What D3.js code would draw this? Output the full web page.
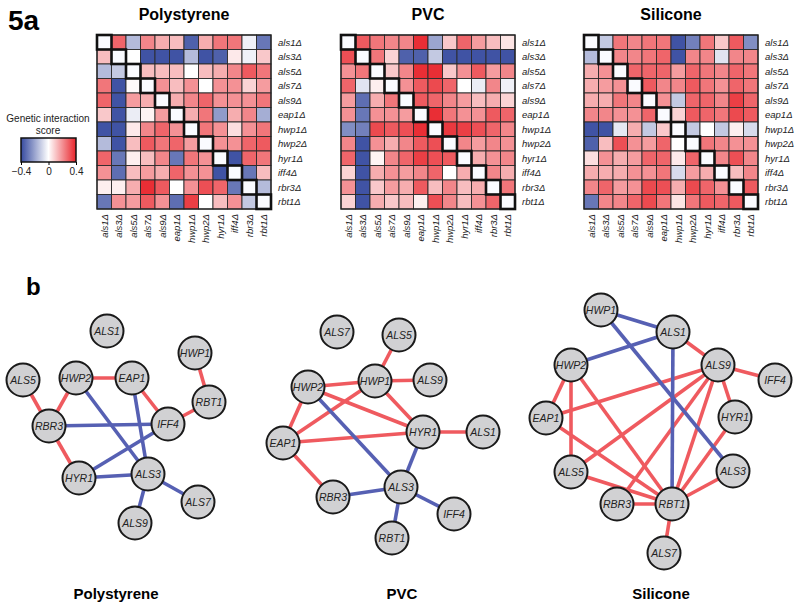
<!DOCTYPE html>
<html>
<head>
<meta charset="utf-8">
<script src="https://cdnjs.cloudflare.com/ajax/libs/d3/7.8.5/d3.min.js"></script>
<style>
  body { margin: 0; background: #fff; }
  svg { font-family: 'Liberation Sans', Arial, sans-serif; }
  .lab { font-style: italic; font-size: 9.5px; fill: #222; }
  .node text { font-style: italic; font-size: 10.5px; fill: #222; }
</style>
</head>
<body>
<svg id="fig" width="800" height="610"></svg>
<script>
// ---- data ----
const genes = ['als1', 'als3', 'als5', 'als7', 'als9', 'eap1', 'hwp1', 'hwp2', 'hyr1', 'iff4', 'rbr3', 'rbt1'];
const surfaces = ['Polystyrene', 'PVC', 'Silicone'];
const legendTicks = [-0.4, 0, 0.4];

// genetic interaction scores, rows/cols in gene order
const polystyreneScores = [
  [0, 0.28, -0.15, 0.22, 0.15, 0.12, -0.35, 0.15, 0.25, 0.25, -0.03, -0.3],
  [0.12, 0, 0.0, -0.38, -0.38, -0.38, -0.15, -0.38, -0.35, 0.04, -0.03, 0.1],
  [-0.15, -0.12, 0, 0.12, 0.12, 0.12, 0.0, 0.12, 0.15, 0.22, 0.3, 0.25],
  [0.25, -0.38, 0.01, 0, 0.2, 0.12, 0.2, 0.0, 0.2, 0.2, 0.08, 0.18],
  [0.28, -0.38, 0.18, 0.15, 0, 0.15, 0.22, 0.28, 0.2, 0.2, 0.2, 0.25],
  [0.1, -0.38, -0.04, 0.02, 0.18, 0, 0.15, 0.25, -0.22, 0.15, 0.22, -0.18],
  [-0.38, -0.38, 0.04, 0.22, 0.28, 0.2, 0, 0.25, 0.2, 0.06, 0.2, 0.25],
  [-0.15, -0.38, 0.12, 0.3, 0.25, 0.28, 0.18, 0, 0.2, 0.2, 0.28, 0.3],
  [0.28, -0.3, 0.03, 0.12, 0.22, -0.3, 0.25, 0.2, 0, -0.38, 0.28, 0.25],
  [0.2, -0.32, 0.12, 0.18, 0.15, 0.28, 0.2, 0.2, -0.38, 0, -0.3, 0.12],
  [0.03, 0.03, 0.15, 0.38, 0.3, 0.0, 0.2, 0.32, 0.28, -0.3, 0, -0.15],
  [-0.3, 0.2, 0.18, 0.3, 0.2, -0.32, 0.35, 0.0, 0.12, 0.2, -0.12, 0]
];
const pvcScores = [
  [0, 0.3, 0.25, 0.22, 0.22, 0.38, -0.2, 0.1, 0.28, 0.18, 0.12, 0.05],
  [0.32, 0, 0.25, 0.08, -0.35, -0.35, -0.12, -0.38, -0.38, -0.38, -0.38, -0.38],
  [0.2, 0.25, 0, 0.1, 0.22, 0.38, 0.38, 0.1, 0.2, 0.3, 0.18, 0.22],
  [0.28, -0.06, 0.03, 0, 0.2, 0.3, 0.33, 0.28, 0.0, -0.04, 0.22, -0.03],
  [0.18, -0.32, 0.15, 0.25, 0, 0.3, 0.28, 0.22, 0.18, 0.12, 0.15, 0.08],
  [0.2, -0.3, 0.2, 0.2, 0.18, 0, 0.38, 0.25, 0.2, 0.2, 0.3, 0.28],
  [-0.25, -0.28, 0.33, 0.3, 0.32, 0.38, 0, 0.36, 0.35, 0.32, 0.28, 0.22],
  [0.22, -0.38, 0.2, 0.15, 0.22, 0.3, 0.32, 0, 0.22, 0.18, 0.22, 0.2],
  [0.28, -0.38, 0.02, 0.22, 0.28, 0.35, 0.32, 0.3, 0, 0.15, 0.2, 0.22],
  [0.08, -0.38, 0.15, 0.2, 0.18, 0.22, 0.28, 0.0, 0.15, 0, 0.22, 0.15],
  [0.2, -0.38, 0.1, 0.18, 0.15, 0.3, 0.12, 0.22, 0.12, 0.15, 0, 0.25],
  [0.08, -0.38, 0.15, 0.1, 0.12, 0.03, 0.32, 0.22, 0.12, 0.2, 0.28, 0]
];
const siliconeScores = [
  [0, -0.12, 0.25, 0.22, 0.25, 0.25, -0.38, -0.28, 0.25, 0.1, 0.3, -0.25],
  [-0.15, 0, 0.22, 0.22, 0.25, 0.28, -0.38, 0.22, 0.22, -0.06, 0.22, 0.22],
  [0.15, 0.2, 0, 0.28, 0.28, 0.28, 0.18, 0.28, 0.25, 0.22, 0.28, 0.25],
  [0.15, 0.18, 0.2, 0, 0.3, 0.22, 0.22, 0.3, 0.25, 0.2, 0.28, 0.25],
  [0.15, 0.15, 0.25, 0.22, 0, 0.2, -0.12, 0.28, 0.28, 0.22, 0.35, 0.28],
  [0.22, 0.22, 0.2, 0.2, 0.28, 0, 0.08, 0.3, 0.28, 0.25, 0.33, 0.3],
  [-0.38, -0.38, -0.05, 0.15, -0.12, 0.1, 0, -0.12, 0.0, -0.12, 0.03, -0.08],
  [-0.35, 0.12, 0.32, 0.2, 0.18, 0.28, 0.0, 0, 0.25, 0.22, 0.2, 0.2],
  [0.06, 0.2, 0.15, 0.18, 0.28, 0.28, 0.04, 0.28, 0, 0.22, 0.32, 0.22],
  [0.15, 0.15, 0.15, 0.2, 0.2, 0.25, -0.08, 0.18, 0.15, 0, 0.12, 0.22],
  [0.22, 0.28, 0.18, 0.2, 0.33, 0.32, 0.15, 0.33, 0.28, 0.2, 0, 0.3],
  [-0.3, 0.22, 0.22, 0.28, 0.33, 0.25, 0.05, 0.25, 0.3, 0.28, 0.3, 0]
];

// network layouts (panel units) and significant interactions
const polystyreneNodes = [
  ['ALS1', 107, 31], ['HWP1', 195, 53], ['ALS5', 23, 80], ['HWP2', 76, 78],
  ['EAP1', 132, 78], ['RBT1', 209, 102], ['RBR3', 49, 126], ['IFF4', 168, 124],
  ['HYR1', 79, 178], ['ALS3', 148, 174], ['ALS7', 198, 202], ['ALS9', 135, 223]
];
const polystyreneEdges = [
  ['ALS5', 'RBR3', 1], ['HWP2', 'RBR3', 1], ['HWP2', 'EAP1', 1], ['EAP1', 'IFF4', 1],
  ['IFF4', 'RBT1', 1], ['RBT1', 'HWP1', 1], ['RBR3', 'HYR1', 1],
  ['HWP2', 'ALS3', -1], ['EAP1', 'ALS3', -1], ['RBR3', 'IFF4', -1], ['HYR1', 'IFF4', -1],
  ['HYR1', 'ALS3', -1], ['ALS3', 'ALS7', -1], ['ALS3', 'ALS9', -1]
];
const pvcNodes = [
  ['ALS7', 72, 32], ['ALS5', 134, 35], ['HWP2', 43, 87], ['HWP1', 110, 81],
  ['ALS9', 165, 80], ['EAP1', 18, 143], ['HYR1', 158, 132], ['ALS1', 218, 132],
  ['ALS3', 136, 187], ['RBR3', 68, 197], ['IFF4', 189, 214], ['RBT1', 127, 238]
];
const pvcEdges = [
  ['ALS5', 'HWP1', 1], ['HWP2', 'HWP1', 1], ['HWP1', 'ALS9', 1], ['HWP2', 'HYR1', 1],
  ['HWP1', 'HYR1', 1], ['HWP2', 'EAP1', 1], ['EAP1', 'HWP1', 1], ['EAP1', 'HYR1', 1],
  ['HYR1', 'ALS1', 1], ['EAP1', 'RBR3', 1],
  ['HWP2', 'ALS3', -1], ['HYR1', 'ALS3', -1], ['RBR3', 'ALS3', -1], ['ALS3', 'IFF4', -1],
  ['ALS3', 'RBT1', -1]
];
const siliconeNodes = [
  ['HWP1', 71, 10], ['ALS1', 143, 32], ['HWP2', 41, 65], ['ALS9', 188, 65],
  ['IFF4', 245, 80], ['EAP1', 16, 118], ['HYR1', 205, 117], ['ALS5', 41, 172],
  ['ALS3', 203, 171], ['RBR3', 87, 204], ['RBT1', 142, 204], ['ALS7', 134, 253]
];
const siliconeEdges = [
  ['ALS1', 'ALS9', 1], ['ALS9', 'IFF4', 1], ['ALS9', 'EAP1', 1], ['ALS9', 'HYR1', 1],
  ['ALS9', 'ALS5', 1], ['ALS9', 'RBR3', 1], ['ALS9', 'RBT1', 1], ['HWP2', 'EAP1', 1],
  ['HWP2', 'ALS5', 1], ['HWP2', 'RBT1', 1], ['EAP1', 'RBT1', 1], ['ALS5', 'RBT1', 1],
  ['RBR3', 'RBT1', 1], ['HYR1', 'RBT1', 1], ['ALS3', 'RBT1', 1], ['RBT1', 'ALS7', 1],
  ['HWP1', 'ALS1', -1], ['ALS1', 'HWP2', -1], ['HWP1', 'ALS3', -1], ['ALS1', 'RBT1', -1]
];

// ---- layout ----
const GRID = 174;
const HEAT_LEFT = [97, 341, 584];
const HEAT_TOP = 35;
const NET_LEFT = [0, 265, 530];
const NET_TOP = 300;
const NODE_R = 16.5;
const RED = '#ef5a5f';
const BLUE = '#5660b3';

const $svg = d3.select('#fig');

const color = d3.scaleLinear()
  .domain([-0.4, 0, 0.4])
  .range(['#364a9f', '#ffffff', '#e8232a'])
  .clamp(true);

const band = d3.scaleBand().domain(genes).range([0, GRID]);

// panel labels
$svg.append('text').attr('x', 8).attr('y', 30)
  .attr('font-size', 28).attr('font-weight', 'bold').text('5a');
$svg.append('text').attr('x', 26).attr('y', 295)
  .attr('font-size', 24).attr('font-weight', 'bold').text('b');

function drawHeatmap(scores, title, left) {
  const g = $svg.append('g').attr('transform', `translate(${left},${HEAT_TOP})`);
  const cells = [];
  scores.forEach((row, i) => row.forEach((v, j) => cells.push({ i, j, v })));

  g.selectAll('rect.cell')
    .data(cells)
    .enter().append('rect')
    .attr('class', 'cell')
    .attr('x', d => band(genes[d.j]))
    .attr('y', d => band(genes[d.i]))
    .attr('width', band.bandwidth())
    .attr('height', band.bandwidth())
    .attr('fill', d => d.i === d.j ? '#fafbff' : color(d.v))
    .attr('stroke', '#2a2a2a')
    .attr('stroke-width', 0.9);

  g.append('rect')
    .attr('width', GRID).attr('height', GRID)
    .attr('fill', 'none').attr('stroke', '#222').attr('stroke-width', 1.3);

  // thick boxes on the diagonal
  g.selectAll('rect.diag')
    .data(genes)
    .enter().append('rect')
    .attr('class', 'diag')
    .attr('x', d => band(d))
    .attr('y', d => band(d))
    .attr('width', band.bandwidth())
    .attr('height', band.bandwidth())
    .attr('fill', 'none')
    .attr('stroke', '#111')
    .attr('stroke-width', 2.6);

  g.append('text')
    .attr('x', GRID / 2).attr('y', -15)
    .attr('text-anchor', 'middle')
    .attr('font-size', 16).attr('font-weight', 'bold')
    .text(title);

  // row labels
  g.selectAll('text.row')
    .data(genes)
    .enter().append('text')
    .attr('class', 'lab row')
    .attr('x', GRID + 7)
    .attr('y', d => band(d) + band.bandwidth() / 2)
    .attr('dy', '0.35em')
    .text(d => d + 'Δ');

  // column labels
  g.selectAll('text.col')
    .data(genes)
    .enter().append('text')
    .attr('class', 'lab col')
    .attr('transform', d => `translate(${band(d) + band.bandwidth() / 2},${GRID + 5}) rotate(-90)`)
    .attr('dy', '0.35em')
    .attr('text-anchor', 'end')
    .text(d => d + 'Δ');
}

function drawLegend() {
  const lx = d3.scaleLinear().domain([-0.4, 0.4]).range([21, 76]);
  const defs = $svg.append('defs');
  const grad = defs.append('linearGradient').attr('id', 'scoreGrad');
  d3.range(0, 1.0001, 0.1).forEach(t => {
    grad.append('stop')
      .attr('offset', `${t * 100}%`)
      .attr('stop-color', color(-0.4 + 0.8 * t));
  });
  const g = $svg.append('g');
  g.append('text').attr('x', 48).attr('y', 122).attr('text-anchor', 'middle')
    .attr('font-size', 10).attr('fill', '#222').text('Genetic interaction');
  g.append('text').attr('x', 48).attr('y', 134).attr('text-anchor', 'middle')
    .attr('font-size', 10).attr('fill', '#222').text('score');
  g.append('rect')
    .attr('x', lx(-0.4)).attr('y', 138)
    .attr('width', lx(0.4) - lx(-0.4)).attr('height', 24)
    .attr('fill', 'url(#scoreGrad)')
    .attr('stroke', '#111').attr('stroke-width', 1.5);
  g.append('g')
    .attr('transform', 'translate(0,162)')
    .call(d3.axisBottom(lx).tickValues(legendTicks).tickSize(3)
      .tickFormat(d => d === 0 ? '0' : d3.format('.1f')(d).replace('-', '−')))
    .call(a => a.select('.domain').remove())
    .call(a => a.selectAll('text').attr('font-size', 10).attr('fill', '#222')
      .attr('font-family', "'Liberation Sans', Arial, sans-serif"));
}

function drawNetwork(nodes, edges, title, left) {
  const x = d3.scaleLinear().domain([0, 260]).range([left, left + 260]);
  const y = d3.scaleLinear().domain([0, 260]).range([NET_TOP, NET_TOP + 260]);
  const pos = {};
  nodes.forEach(d => { pos[d[0]] = { x: x(d[1]), y: y(d[2]) }; });

  const g = $svg.append('g');
  g.selectAll('line')
    .data(edges)
    .enter().append('line')
    .attr('x1', d => pos[d[0]].x).attr('y1', d => pos[d[0]].y)
    .attr('x2', d => pos[d[1]].x).attr('y2', d => pos[d[1]].y)
    .attr('stroke', d => d[2] > 0 ? RED : BLUE)
    .attr('stroke-width', 3.6);

  const node = g.selectAll('g.node')
    .data(nodes)
    .enter().append('g')
    .attr('class', 'node')
    .attr('transform', d => `translate(${pos[d[0]].x},${pos[d[0]].y})`);
  node.append('circle')
    .attr('r', NODE_R)
    .attr('fill', '#d1d1d3')
    .attr('stroke', '#1a1a1a')
    .attr('stroke-width', 2);
  node.append('text')
    .attr('text-anchor', 'middle')
    .attr('dy', '0.35em')
    .text(d => d[0]);
}

const heatData = [polystyreneScores, pvcScores, siliconeScores];
heatData.forEach((s, k) => drawHeatmap(s, surfaces[k], HEAT_LEFT[k]));
drawLegend();

drawNetwork(polystyreneNodes, polystyreneEdges, surfaces[0], NET_LEFT[0]);
drawNetwork(pvcNodes, pvcEdges, surfaces[1], NET_LEFT[1]);
drawNetwork(siliconeNodes, siliconeEdges, surfaces[2], NET_LEFT[2]);

// network titles
const titleX = [116, 402, 661];
$svg.selectAll('text.nettitle')
  .data(surfaces)
  .enter().append('text')
  .attr('class', 'nettitle')
  .attr('x', (d, i) => titleX[i]).attr('y', 599)
  .attr('text-anchor', 'middle')
  .attr('font-size', 15).attr('font-weight', 'bold')
  .text(d => d);
</script>
</body>
</html>
